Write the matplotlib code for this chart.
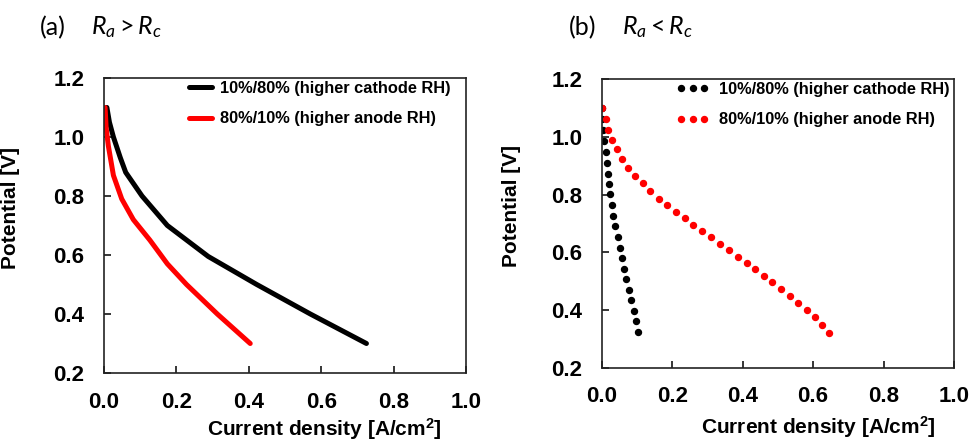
"""
Polarization curves for the two humidity configurations.
(a) anode resistance higher than cathode, (b) the reverse.
"""

import matplotlib
matplotlib.use("Agg")
import matplotlib.pyplot as plt

# panel (a): 10%/80% (higher cathode RH)
a_cath_j = [0.008, 0.015, 0.026, 0.045, 0.060, 0.105, 0.175, 0.288, 0.422,
            0.570, 0.725]
a_cath_v = [1.10, 1.05, 1.00, 0.93, 0.88, 0.80, 0.70, 0.595, 0.50, 0.40, 0.30]

# panel (a): 80%/10% (higher anode RH)
a_anod_j = [0.003, 0.006, 0.012, 0.026, 0.049, 0.081, 0.127, 0.175, 0.228,
            0.313, 0.404]
a_anod_v = [1.10, 1.03, 0.97, 0.87, 0.79, 0.72, 0.65, 0.57, 0.50, 0.40, 0.30]

# panel (b): 10%/80% (higher cathode RH), measured points
b_cath_j = [0.000, 0.002, 0.004, 0.0075, 0.011, 0.014, 0.017, 0.021, 0.024,
            0.028, 0.033, 0.039, 0.045, 0.051, 0.058, 0.064, 0.070, 0.077,
            0.083, 0.091, 0.097, 0.104]
b_cath_v = [1.100, 1.062, 1.025, 0.985, 0.948, 0.910, 0.872, 0.836, 0.801,
            0.764, 0.727, 0.690, 0.652, 0.616, 0.580, 0.544, 0.508, 0.471,
            0.435, 0.397, 0.363, 0.326]

# panel (b): 80%/10% (higher anode RH), measured points
b_anod_j = [0.002, 0.011, 0.019, 0.028, 0.042, 0.057, 0.074, 0.095, 0.116,
            0.138, 0.162, 0.185, 0.210, 0.235, 0.260, 0.285, 0.310, 0.336,
            0.360, 0.386, 0.411, 0.435, 0.460, 0.484, 0.509, 0.534, 0.558,
            0.582, 0.604, 0.625, 0.646]
b_anod_v = [1.099, 1.060, 1.024, 0.989, 0.957, 0.923, 0.893, 0.865, 0.839,
            0.812, 0.786, 0.764, 0.741, 0.718, 0.696, 0.674, 0.652, 0.630,
            0.607, 0.585, 0.563, 0.541, 0.518, 0.496, 0.472, 0.449, 0.425,
            0.401, 0.375, 0.349, 0.321]

labels = ["10%/80% (higher cathode RH)", "80%/10% (higher anode RH)"]
ticks = [0.0, 0.2, 0.4, 0.6, 0.8, 1.0]
yticks = [0.2, 0.4, 0.6, 0.8, 1.0, 1.2]

plt.rcParams["font.family"] = ["Liberation Sans", "DejaVu Sans"]
plt.rcParams["mathtext.fontset"] = "custom"
plt.rcParams["mathtext.rm"] = "Lato"
plt.rcParams["mathtext.it"] = "Lato:italic"
plt.rcParams["mathtext.bf"] = "Liberation Sans:bold"


def style_axes(ax, xpad, ypad):
    ax.set_xlim(0, 1.0)
    ax.set_ylim(0.2, 1.2)
    ax.set_xticks(ticks)
    ax.set_yticks(yticks)
    ax.set_xticklabels(["%.1f" % t for t in ticks])
    ax.set_yticklabels(["%.1f" % t for t in yticks])
    ax.tick_params(axis="x", direction="in", length=5, width=1.1, pad=xpad,
                   labelsize=16)
    ax.tick_params(axis="y", direction="in", length=5, width=1.1, pad=ypad,
                   labelsize=16)
    for lab in ax.get_xticklabels() + ax.get_yticklabels():
        lab.set_fontweight("bold")
    for sp in ax.spines.values():
        sp.set_linewidth(1.2)
        sp.set_color("#222222")


def add_labels(ax, xl_pos, yl_pos):
    ax.set_ylabel("Potential [V]", fontsize=15, fontweight="bold")
    ax.yaxis.set_label_coords(*yl_pos)
    ax.set_xlabel("Current density [A/cm$\\mathbf{^2}$]", fontsize=15,
                  fontweight="bold")
    ax.xaxis.set_label_coords(*xl_pos)


legend_font = {"weight": "bold", "size": 11.8}

fig = plt.figure(figsize=(9.71, 4.43), dpi=100)

# (a) solid curves
ax1 = fig.add_axes([0.1071, 0.158, 0.3728, 0.666])
ax1.plot(a_cath_j, a_cath_v, color="black", lw=3.6, label=labels[0],
         solid_capstyle="round", solid_joinstyle="round")
ax1.plot(a_anod_j, a_anod_v, color="#ff0000", lw=3.6, label=labels[1],
         solid_capstyle="round", solid_joinstyle="round")
style_axes(ax1, 14, 14)
ax1.legend(loc="upper left", bbox_to_anchor=(0.236, 0.99), frameon=False,
           borderpad=0, borderaxespad=0, handlelength=1.4,
           handletextpad=0.45, labelspacing=0.95, prop=legend_font)
add_labels(ax1, (0.61, -0.146), (-0.232, 0.56))

# (b) measured points
ax2 = fig.add_axes([0.6197, 0.1693, 0.3628, 0.6524])
ax2.plot(b_cath_j, b_cath_v, ls="none", marker="o", ms=4.3, color="black",
         label=labels[0])
ax2.plot(b_anod_j, b_anod_v, ls="none", marker="o", ms=4.3, color="#ff0000",
         label=labels[1])
style_axes(ax2, 13, 14)
ax2.legend(loc="upper left", bbox_to_anchor=(0.212, 0.99), frameon=False,
           borderpad=0, borderaxespad=0, numpoints=3, handlelength=2.0,
           handletextpad=0.6, labelspacing=0.95, prop=legend_font)
add_labels(ax2, (0.615, -0.16), (-0.23, 0.56))

# panel titles
fig.text(0.041, 0.938, "(a)", fontsize=18, family="Lato", va="center")
fig.text(0.094, 0.938, "$R_a > R_c$", fontsize=18, va="center")
fig.text(0.586, 0.938, "(b)", fontsize=18, family="Lato", va="center")
fig.text(0.641, 0.938, "$R_a < R_c$", fontsize=18, va="center")

fig.savefig("out.png", dpi=100)
